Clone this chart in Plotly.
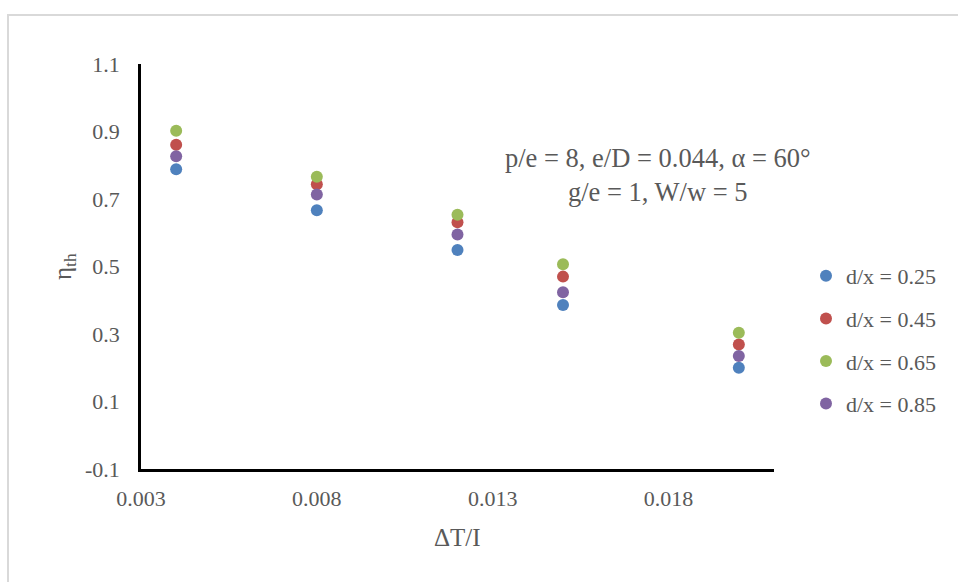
import plotly.graph_objects as go

# Thermal efficiency vs temperature-rise parameter
dt_over_i = [0.004, 0.008, 0.012, 0.015, 0.020]

series_names = ["d/x = 0.25", "d/x = 0.45", "d/x = 0.65", "d/x = 0.85"]
eta_025 = [0.788, 0.667, 0.549, 0.386, 0.200]
eta_045 = [0.861, 0.744, 0.631, 0.470, 0.269]
eta_065 = [0.902, 0.766, 0.653, 0.507, 0.304]
eta_085 = [0.827, 0.713, 0.595, 0.424, 0.235]
series_values = [eta_025, eta_045, eta_065, eta_085]
series_colors = ["#4F81BD", "#C0504D", "#9BBB59", "#8064A2"]

x_tick_vals = [0.003, 0.008, 0.013, 0.018]
x_tick_text = ["0.003", "0.008", "0.013", "0.018"]
y_tick_vals = [-0.1, 0.1, 0.3, 0.5, 0.7, 0.9, 1.1]
y_tick_text = ["-0.1", "0.1", "0.3", "0.5", "0.7", "0.9", "1.1"]

FONT = "Liberation Serif, Times New Roman, serif"
TXT = "#595959"

fig = go.Figure()
for i, (name, vals, col) in enumerate(zip(series_names, series_values, series_colors)):
    fig.add_trace(go.Scatter(
        x=dt_over_i, y=vals, mode="markers", name=name,
        legendgroup=f"g{i}",
        marker=dict(color=col, size=12, line=dict(width=0)),
    ))

W, H = 958, 582
L, R, T, B = 141, 774, 64, 469


def px_x(p):
    return (p - L) / (R - L)


def px_y(p):
    return (B - p) / (B - T)


fig.update_layout(
    width=W, height=H,
    margin=dict(l=L, r=W - R, t=T, b=H - B, autoexpand=False),
    paper_bgcolor="white", plot_bgcolor="white",
    font=dict(family=FONT, color=TXT, size=22),
    showlegend=True,
    legend=dict(
        x=px_x(806), y=px_y(255), xanchor="left", yanchor="top",
        font=dict(family=FONT, size=22, color=TXT),
        itemwidth=30, tracegroupgap=11, traceorder="grouped",
        bgcolor="rgba(0,0,0,0)",
    ),
    xaxis=dict(
        range=[0.003, 0.021], tickmode="array",
        tickvals=x_tick_vals, ticktext=x_tick_text,
        showgrid=False, zeroline=False, showline=True,
        linecolor="black", linewidth=2.5, ticks="",
        ticklabelstandoff=8,
        tickfont=dict(family=FONT, size=22, color=TXT),
    ),
    yaxis=dict(
        range=[-0.1, 1.1], tickmode="array",
        tickvals=y_tick_vals, ticktext=y_tick_text,
        showgrid=False, zeroline=False, showline=True,
        linecolor="black", linewidth=2.5, ticks="",
        ticklabelstandoff=14,
        tickfont=dict(family=FONT, size=22, color=TXT),
    ),
    shapes=[dict(
        type="rect", xref="paper", yref="paper",
        x0=px_x(8), x1=px_x(1100), y0=px_y(700), y1=px_y(15),
        line=dict(color="#d9d9d9", width=2), layer="below",
    )],
    annotations=[
        dict(
            text="p/e = 8, e/D = 0.044, α = 60°<br>g/e = 1, W/w = 5",
            xref="paper", yref="paper", x=px_x(658), y=px_y(175),
            xanchor="center", yanchor="middle", showarrow=False, align="center",
            font=dict(family=FONT, size=26.5, color=TXT),
        ),
        dict(
            text="ΔT/I", xref="paper", yref="paper",
            x=px_x(457), y=px_y(537), xanchor="center", yanchor="middle",
            showarrow=False, font=dict(family=FONT, size=25, color=TXT),
        ),
        dict(
            text="η<sub>th</sub>", xref="paper", yref="paper",
            x=px_x(64), y=px_y(267), xanchor="center", yanchor="middle",
            textangle=-90, showarrow=False,
            font=dict(family=FONT, size=25, color=TXT),
        ),
    ],
)

fig.write_html("out.html")
